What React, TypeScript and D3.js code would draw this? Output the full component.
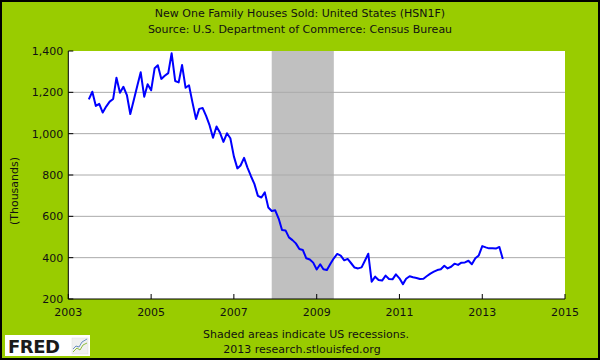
import React from "react";
import * as d3 from "d3";

// monthly sales, thousands (SAAR), Jul 2003 .. Jul 2013
const firstMonth = new Date(2003, 6, 1);
const sales = [
  1166, 1203, 1134, 1144, 1102, 1131,
  1155, 1168, 1271, 1198, 1227, 1187, 1095, 1163, 1232, 1297, 1179, 1239,
  1210, 1317, 1331, 1265, 1280, 1293, 1389, 1255, 1248, 1332, 1222, 1234,
  1150, 1071, 1120, 1124, 1086, 1040, 980, 1035, 1004, 960, 1002, 978,
  890, 832, 846, 883, 836, 794, 757, 699, 691, 716, 643, 626,
  629, 588, 534, 532, 498, 485, 469, 442, 437, 397, 391, 376,
  343, 368, 344, 340, 369, 397, 418, 410, 387, 394, 373, 352,
  348, 353, 384, 419, 284, 308, 292, 289, 313, 297, 295, 319,
  300, 272, 298, 310, 305, 302, 297, 298, 311, 323, 332, 340,
  344, 361, 348, 356, 371, 365, 376, 377, 385, 368, 397, 411,
  456, 450, 445, 445, 444, 452, 394,
];
const recessionStart = new Date(2007, 11, 1);
const recessionEnd = new Date(2009, 5, 1);
const yTicks = [200, 400, 600, 800, 1000, 1200, 1400];
const xTickYears = [2003, 2005, 2007, 2009, 2011, 2013, 2015];

const W = 600, H = 360;
const plot = { left: 68.3, right: 565, top: 51, bottom: 299 };
const font = "'DejaVu Sans', Verdana, sans-serif";

export default function App() {
  const x = d3.scaleTime()
    .domain([new Date(2003, 0, 1), new Date(2015, 0, 1)])
    .range([plot.left, plot.right]);
  const y = d3.scaleLinear().domain([200, 1400]).range([plot.bottom, plot.top]);

  const pts: [Date, number][] = sales.map((v, i) => [d3.timeMonth.offset(firstMonth, i), v]);
  const line = d3.line<[Date, number]>().x(d => x(d[0])).y(d => y(d[1]));
  const fmt = d3.format(",");

  return (
    <svg width={W} height={H} style={{ position: "absolute", left: 0, top: 0, display: "block" }}
      fontFamily={font}>
      <rect x={1} y={1} width={W - 2} height={H - 2} fill="#99cc00" stroke="#000" strokeWidth={2} />

      <text x={300} y={17} textAnchor="middle" fontSize={11} fill="#111">New One Family Houses Sold: United States (HSN1F)</text>
      <text x={300} y={33} textAnchor="middle" fontSize={11} fill="#111">Source: U.S. Department of Commerce: Census Bureau</text>

      <rect x={plot.left} y={plot.top} width={plot.right - plot.left} height={plot.bottom - plot.top} fill="#fff" />
      <rect x={x(recessionStart)} y={plot.top} width={x(recessionEnd) - x(recessionStart)}
        height={plot.bottom - plot.top} fill="#c0c0c0" />

      {yTicks.filter(t => t > 200 && t < 1400).map(t => (
        <line key={"g" + t} x1={plot.left} x2={plot.right} y1={y(t)} y2={y(t)} stroke="#aaaaaa" strokeWidth={1} />
      ))}

      <path d={line(pts) || ""} fill="none" stroke="#0000ff" strokeWidth={2} strokeLinejoin="round" />

      <line x1={plot.left} x2={plot.left} y1={plot.top} y2={plot.bottom} stroke="#000" />
      <line x1={plot.left} x2={plot.right} y1={plot.bottom} y2={plot.bottom} stroke="#000" />

      {yTicks.map(t => (
        <g key={"y" + t}>
          <line x1={plot.left} x2={plot.left + 5} y1={y(t)} y2={y(t)} stroke="#000" />
          <text x={plot.left - 5} y={y(t) + 4} textAnchor="end" fontSize={11} fill="#111">{fmt(t)}</text>
        </g>
      ))}
      {xTickYears.map(yr => (
        <g key={"x" + yr}>
          <line x1={x(new Date(yr, 0, 1))} x2={x(new Date(yr, 0, 1))} y1={plot.bottom} y2={plot.bottom - 5} stroke="#000" />
          <text x={x(new Date(yr, 0, 1))} y={316} textAnchor="middle" fontSize={11} fill="#111">{yr}</text>
        </g>
      ))}

      <text transform="translate(18,191) rotate(-90)" textAnchor="middle" fontSize={11} fill="#111">(Thousands)</text>

      <text x={306} y={338} textAnchor="middle" fontSize={11} fill="#111">Shaded areas indicate US recessions.</text>
      <text x={302} y={353} textAnchor="middle" fontSize={11} fill="#111">2013 research.stlouisfed.org</text>

      {/* FRED logo */}
      <g>
        <rect x={5} y={335} width={85} height={21} fill="#fff" />
        <text x={8} y={353} fontSize={18} fontWeight={900} fontFamily="'DejaVu Sans', sans-serif" fill="#1a1a1a" letterSpacing={-0.5}>FRED</text>
        <rect x={72} y={338} width={16} height={16} fill="#f0f0f0" stroke="#ddd" strokeWidth={0.5} />
        <path d="M73,352 L77,348 L80,350 L83,345 L87,343" fill="none" stroke="#8fbf3f" strokeWidth={1} />
        <path d="M73,349 L76,346 L79,347 L82,342 L87,339" fill="none" stroke="#6a8fc0" strokeWidth={1} />
      </g>
    </svg>
  );
}
